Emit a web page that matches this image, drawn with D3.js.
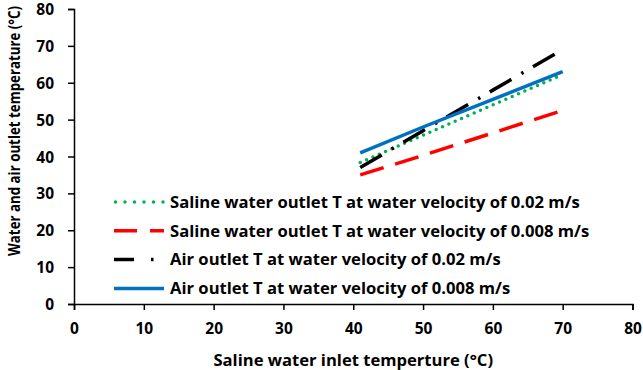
<!DOCTYPE html>
<html>
<head>
<meta charset="utf-8">
<script src="https://cdn.jsdelivr.net/npm/d3@7/dist/d3.min.js"></script>
<style>
  html, body { margin: 0; padding: 0; background: #fff; }
  svg { display: block; font-family: 'Open Sans', sans-serif; font-weight: 700; }
</style>
</head>
<body>
<svg id="chart" width="643" height="370"></svg>
<script>
'use strict';

// inlet temperature (x) at which each series was read
var inletT = [41, 50, 60, 70];

var salineFast = [38.4, 45.8, 54.0, 62.2];   // 0.02 m/s
var salineSlow = [35.0, 40.3, 46.4, 52.5];   // 0.008 m/s
var airFast = [37.0, 47.0, 58.0, 69.0];      // 0.02 m/s
var airSlow = [41.0, 48.0, 55.5, 63.0];      // 0.008 m/s

var xTicks = [0, 10, 20, 30, 40, 50, 60, 70, 80];
var yTicks = [0, 10, 20, 30, 40, 50, 60, 70, 80];

var seriesNames = [
  'Saline water outlet T at water velocity of 0.02 m/s',
  'Saline water outlet T at water velocity of 0.008 m/s',
  'Air outlet T at water velocity of 0.02 m/s',
  'Air outlet T at water velocity of 0.008 m/s'
];

var series = [
  { name: seriesNames[0], values: salineFast, color: '#00b050', width: 3.5, dash: '0,6.9', cap: 'round', key: '0,9.5' },
  { name: seriesNames[1], values: salineSlow, color: '#ff0000', width: 3.5, dash: '24.5,12', cap: 'butt', key: '23,13' },
  { name: seriesNames[2], values: airFast, color: '#000000', width: 3.5, dash: '25,11.5,2.5,11', cap: 'butt', key: '20,17,2.5,30' },
  { name: seriesNames[3], values: airSlow, color: '#0070c0', width: 3.5, dash: null, cap: 'butt', key: null }
];

var svg = d3.select('#chart');

var margin = { left: 74, top: 9 };
var height = 295;

var x = d3.scaleLinear().domain([0, 80]).range([0, 558.5]);
var y = d3.scaleLinear().domain([0, 80]).range([height, 0]);

var g = svg.append('g')
  .attr('transform', 'translate(' + margin.left + ',' + margin.top + ')');

// axes
var xAxis = g.append('g')
  .attr('transform', 'translate(0,' + height + ')')
  .call(d3.axisBottom(x).tickValues(xTicks).tickSize(6).tickPadding(12));

var yAxis = g.append('g')
  .call(d3.axisLeft(y).tickValues(yTicks).tickSize(6).tickPadding(14));

[xAxis, yAxis].forEach(function (a) {
  a.select('.domain').attr('stroke', '#000').attr('stroke-width', 1.5);
  a.selectAll('.tick line').attr('stroke', '#000').attr('stroke-width', 1.5);
  a.selectAll('.tick text')
    .attr('fill', '#000')
    .attr('font-size', '15.5px')
    .attr('font-family', "'Open Sans', sans-serif")
    .attr('font-weight', 700);
});
xAxis.selectAll('.tick text').attr('dy', '0.8em');
yAxis.selectAll('.tick text').attr('dy', '0.36em');

// series lines
var line = d3.line()
  .x(function (d, i) { return x(inletT[i]); })
  .y(function (d) { return y(d); });

g.selectAll('path.series')
  .data(series)
  .enter().append('path')
  .attr('class', 'series')
  .attr('fill', 'none')
  .attr('stroke', function (d) { return d.color; })
  .attr('stroke-width', function (d) { return d.width; })
  .attr('stroke-dasharray', function (d) { return d.dash; })
  .attr('stroke-linecap', function (d) { return d.cap; })
  .attr('d', function (d) { return line(d.values); });

// legend
var legend = svg.append('g')
  .attr('transform', 'translate(114,202)');

var item = legend.selectAll('g.item')
  .data(series)
  .enter().append('g')
  .attr('class', 'item')
  .attr('transform', function (d, i) { return 'translate(0,' + (i * 28.8) + ')'; });

item.append('line')
  .attr('x1', function (d, i) { return i === 0 ? 1.5 : 0; })
  .attr('x2', 50)
  .attr('stroke', function (d) { return d.color; })
  .attr('stroke-width', function (d) { return d.width; })
  .attr('stroke-dasharray', function (d) { return d.key; })
  .attr('stroke-linecap', function (d) { return d.cap; });

item.append('text')
  .attr('x', 56)
  .attr('dy', '0.35em')
  .attr('font-size', '16.6px')
  .text(function (d) { return d.name; });

// axis titles
svg.append('text')
  .attr('x', margin.left + x(40))
  .attr('y', 360)
  .attr('dy', '0.35em')
  .attr('text-anchor', 'middle')
  .attr('font-size', '16.6px')
  .text('Saline water inlet temperture (°C)');

// narrow title, squeezed to fit beside the axis
svg.append('text')
  .attr('transform', 'translate(14.5,131) rotate(-90)')
  .attr('dy', '0.35em')
  .attr('text-anchor', 'middle')
  .attr('font-size', '15.5px')
  .attr('textLength', 250)
  .attr('lengthAdjust', 'spacingAndGlyphs')
  .text('Water and air outlet temperature (°C)');
</script>
</body>
</html>
